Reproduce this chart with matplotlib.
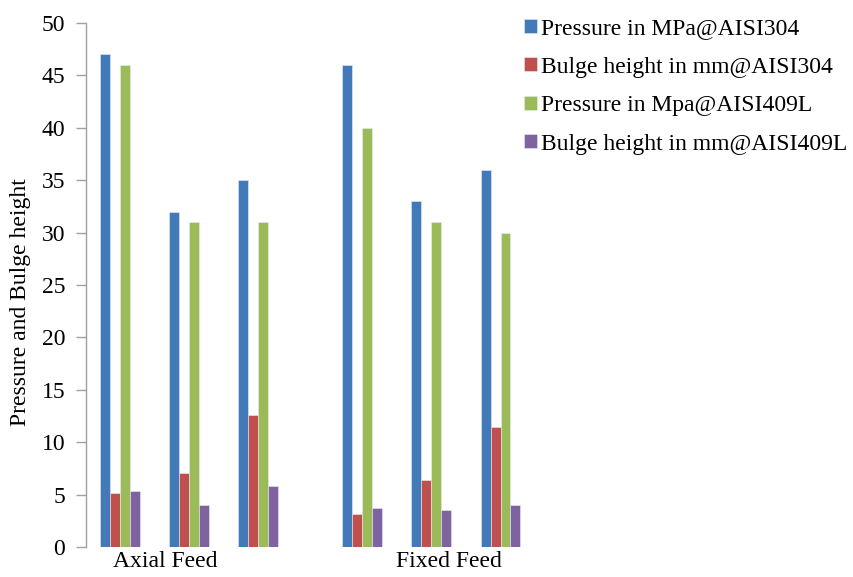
import matplotlib
matplotlib.use("Agg")
import matplotlib.pyplot as plt
import numpy as np

# Four series, six test groups (three axial feed, three fixed feed)
series_labels = [
    "Pressure in MPa@AISI304",
    "Bulge height in mm@AISI304",
    "Pressure in Mpa@AISI409L",
    "Bulge height in mm@AISI409L",
]
pressure_304 = [47, 32, 35, 46, 33, 36]
bulge_304 = [5.15, 7.1, 12.6, 3.2, 6.4, 11.5]
pressure_409 = [46, 31, 31, 40, 31, 30]
bulge_409 = [5.35, 4.05, 5.85, 3.7, 3.6, 4.0]
category_labels = ["Axial Feed", "Fixed Feed"]

colors = ["#4279b8", "#c0504d", "#9bbb59", "#7f63a1"]

plt.rcParams["font.family"] = ["Liberation Serif", "DejaVu Serif"]
plt.rcParams["font.size"] = 17

fig = plt.figure(figsize=(8.54, 5.77), dpi=100)
ax = fig.add_axes([0.1007, 0.0515, 0.534, 0.909])

group_x = np.array([0, 1, 2, 3.5, 4.5, 5.5])
bar_w = 0.143
all_series = [pressure_304, bulge_304, pressure_409, bulge_409]
for i, (vals, lab, col) in enumerate(zip(all_series, series_labels, colors)):
    offs = (i - 1.5) * bar_w
    ax.bar(group_x + offs, vals, width=bar_w, color=col, label=lab,
           edgecolor="#e6ecf5", linewidth=0.4)

ax.set_xlim(-0.488, 6.1)
ax.set_ylim(0, 50)
ax.set_yticks(np.arange(0, 51, 5))
ax.set_xticks([0.65, 4.76])
ax.set_xticklabels(category_labels)
ax.tick_params(axis="x", length=0, pad=3)
ax.tick_params(axis="y", length=7, width=1, color="#a0a0a0", pad=8)

for side in ("top", "right", "bottom"):
    ax.spines[side].set_visible(False)
ax.spines["left"].set_color("#a0a0a0")
ax.spines["left"].set_linewidth(1)

ax.set_ylabel("Pressure and Bulge height")
ax.yaxis.set_label_coords(-0.12, 0.468)

fig.legend(loc="upper left", bbox_to_anchor=(0.603, 0.985), frameon=False,
           handlelength=0.55, handleheight=0.55, handletextpad=0.15,
           labelspacing=0.74, borderaxespad=0)

fig.savefig("out.png", dpi=100)
